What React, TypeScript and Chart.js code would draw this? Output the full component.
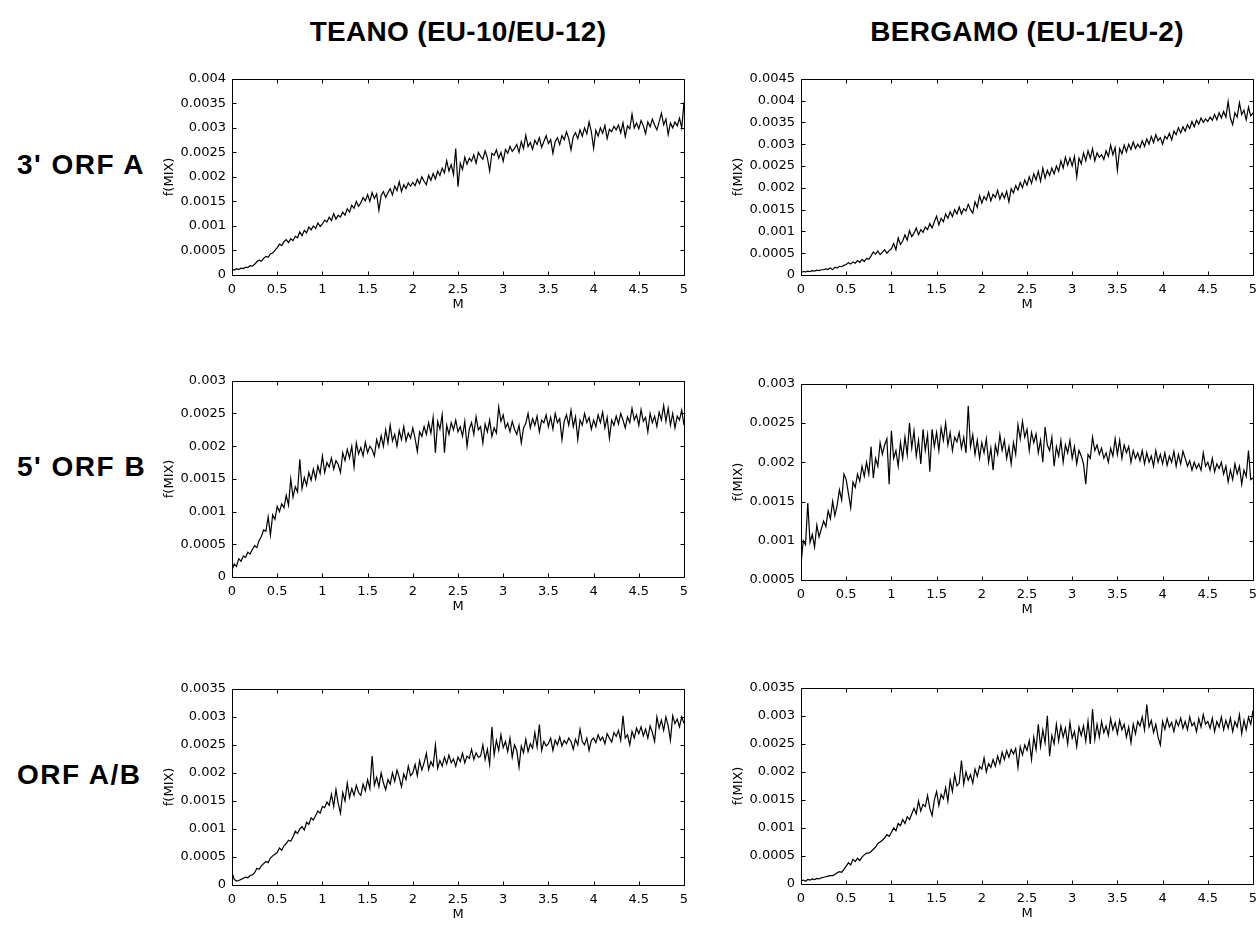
import React, { useEffect, useRef } from "react";
import { Chart, registerables } from "chart.js";

Chart.register(...registerables);

// ---------------- DATA ----------------
// M is sampled every M_STEP from 0 to 5; f(MIX) values are given in units of 1e-5.
const M_STEP = 0.025;
const UNIT = 1e-5;

const M_TICKS = [0, 0.5, 1, 1.5, 2, 2.5, 3, 3.5, 4, 4.5, 5];
const F_TICKS_0_004 = [0, 0.0005, 0.001, 0.0015, 0.002, 0.0025, 0.003, 0.0035, 0.004];
const F_TICKS_0_0045 = [0, 0.0005, 0.001, 0.0015, 0.002, 0.0025, 0.003, 0.0035, 0.004, 0.0045];
const F_TICKS_0_003 = [0, 0.0005, 0.001, 0.0015, 0.002, 0.0025, 0.003];
const F_TICKS_00005_003 = [0.0005, 0.001, 0.0015, 0.002, 0.0025, 0.003];
const F_TICKS_0_0035 = [0, 0.0005, 0.001, 0.0015, 0.002, 0.0025, 0.003, 0.0035];

const COLUMN_TITLES = ["TEANO (EU-10/EU-12)", "BERGAMO (EU-1/EU-2)"];
const ROW_TITLES = ["3' ORF A", "5' ORF B", "ORF A/B"];

// TEANO, 3' ORF A
const teanoOrfA = [
  12, 10, 13, 11, 14, 13, 16, 15, 19, 18,
  22, 27, 30, 28, 34, 38, 36, 43, 45, 50,
  56, 63, 60, 68, 72, 66, 74, 70, 79, 76,
  88, 80, 91, 86, 98, 92, 100, 95, 106, 99,
  104, 112, 108, 118, 111, 125, 114, 122, 118, 128,
  122, 135, 128, 142, 136, 150, 140, 147, 158, 151,
  164, 150, 168, 156, 165, 132, 162, 170, 158, 168,
  176, 163, 181, 172, 190, 170, 184, 176, 188, 181,
  189, 182, 195, 186, 200, 191, 184, 203, 193, 207,
  196, 212, 203, 218, 208, 233, 212, 225, 205, 258,
  180, 228, 215, 240, 226, 238, 232, 245, 228, 250,
  242, 236, 253, 239, 212, 248, 244, 255, 238, 250,
  232, 256, 248, 262, 252, 258, 266, 250, 272, 258,
  285, 262, 270, 256, 275, 266, 280, 260, 272, 284,
  268, 276, 248, 272, 280, 266, 284, 276, 292, 278,
  255, 282, 290, 278, 296, 283, 300, 288, 312, 292,
  258, 295, 283, 300, 289, 305, 278, 297, 292, 303,
  296, 306, 290, 310, 282, 304, 298, 328, 300, 310,
  298, 315, 304, 288, 312, 302, 318, 306, 296, 312,
  330, 306, 318, 286, 310, 300, 312, 304, 320, 300,
  352,
];

// BERGAMO, 3' ORF A
const bergamoOrfA = [
  6, 8, 7, 9, 8, 10, 9, 11, 10, 12,
  12, 14, 13, 16, 12, 18, 16, 20, 19, 22,
  24, 28, 25, 30, 27, 33, 29, 36, 31, 38,
  36, 44, 53, 48, 55, 47, 52, 58, 50, 56,
  60, 72, 58, 85, 70, 78, 92, 80, 102, 88,
  96, 108, 92, 104, 98, 110, 104, 118, 108, 122,
  135, 115, 130, 122, 140, 130, 145, 134, 150, 140,
  156, 140, 152, 147, 162, 150, 142, 168, 155, 182,
  165, 180, 172, 190, 170, 185, 178, 194, 174, 188,
  176, 192, 168, 198, 188, 205, 195, 212, 200, 218,
  206, 225, 210, 232, 218, 238, 215, 245, 222, 240,
  228, 245, 232, 250, 238, 262, 245, 270, 252, 268,
  250, 272, 225, 268, 255, 280, 262, 285, 268, 290,
  262, 280, 270, 276, 265, 285, 272, 298, 276, 292,
  240, 290, 278, 298, 282, 300, 288, 305, 290, 300,
  292, 308, 295, 312, 300, 318, 304, 322, 308, 315,
  300, 318, 312, 325, 310, 330, 322, 338, 326, 340,
  330, 345, 336, 352, 340, 355, 346, 360, 350, 358,
  352, 362, 355, 368, 356, 372, 360, 375, 362, 398,
  360, 345, 372, 362, 395, 368, 378, 356, 385, 365,
  372,
];

// TEANO, 5' ORF B
const teanoOrfB = [
  10, 20, 16, 28, 24, 32, 30, 38, 35, 42,
  48, 45, 56, 62, 72, 70, 92, 64, 95, 88,
  108, 100, 112, 106, 125, 110, 150, 122, 138, 130,
  180, 135, 152, 140, 160, 148, 165, 150, 170, 158,
  185, 160, 175, 168, 182, 165, 178, 172, 160, 190,
  178, 195, 182, 200, 168, 205, 188, 198, 185, 206,
  190, 200, 195, 185, 210, 198, 216, 200, 225, 205,
  232, 208, 218, 200, 224, 210, 230, 208, 220, 212,
  228, 212, 192, 222, 215, 230, 218, 236, 220, 244,
  190, 238, 226, 248, 190, 232, 218, 236, 225, 240,
  222, 230, 215, 238, 200, 226, 236, 218, 245, 225,
  230, 205, 234, 222, 240, 215, 228, 220, 260, 238,
  248, 228, 235, 222, 238, 226, 218, 232, 205, 228,
  235, 250, 228, 242, 232, 246, 222, 240, 236, 248,
  230, 244, 226, 250, 236, 242, 210, 238, 248, 232,
  255, 230, 245, 210, 240, 232, 250, 236, 244, 226,
  240, 230, 248, 236, 252, 228, 244, 212, 240, 232,
  246, 234, 250, 240, 228, 245, 236, 258, 240, 248,
  232, 256, 238, 244, 222, 250, 236, 246, 230, 252,
  240, 262, 238, 258, 232, 250, 228, 246, 240, 255,
  232,
];

// BERGAMO, 5' ORF B
const bergamoOrfB = [
  70, 100, 95, 148, 98, 108, 92, 120, 105, 115,
  125, 118, 138, 128, 150, 132, 145, 165, 152, 185,
  178, 160, 142, 175, 168, 185, 176, 195, 182, 200,
  185, 220, 180, 205, 195, 225, 210, 222, 230, 172,
  240, 205, 215, 195, 225, 205, 232, 210, 250, 218,
  240, 208, 228, 198, 242, 215, 235, 188, 242, 220,
  238, 215, 244, 228, 250, 222, 238, 215, 232, 226,
  238, 218, 232, 212, 272, 220, 235, 210, 228, 205,
  225, 212, 230, 200, 218, 190, 222, 210, 235, 215,
  228, 205, 220, 198, 225, 210, 248, 230, 252, 232,
  242, 215, 238, 225, 236, 212, 228, 200, 245, 222,
  215, 232, 195, 220, 208, 228, 200, 222, 212, 228,
  205, 220, 198, 215, 208, 198, 172, 210, 205, 232,
  215, 222, 210, 218, 205, 212, 200, 218, 208, 230,
  210, 228, 205, 222, 212, 220, 200, 215, 205, 212,
  202, 215, 198, 212, 200, 208, 195, 215, 200, 210,
  198, 212, 196, 208, 200, 214, 195, 210, 198, 214,
  205, 195, 202, 190, 200, 192, 198, 190, 212, 195,
  200, 190, 205, 188, 198, 192, 200, 185, 195, 175,
  190, 178, 198, 185, 195, 172, 190, 182, 215, 178,
  180,
];

// TEANO, ORF A/B
const teanoOrfAB = [
  22, 10, 7, 8, 10, 12, 14, 13, 17, 18,
  22, 30, 28, 34, 38, 42, 40, 48, 52, 55,
  58, 66, 62, 70, 74, 80, 78, 86, 96, 92,
  100, 104, 98, 112, 108, 120, 116, 124, 132, 128,
  140, 138, 148, 142, 162, 140, 170, 145, 128, 165,
  150, 182, 156, 172, 160, 178, 165, 160, 180, 168,
  188, 172, 230, 178, 192, 175, 200, 182, 170, 188,
  180, 200, 185, 205, 192, 175, 198, 188, 212, 195,
  200, 215, 195, 222, 205, 218, 235, 206, 220, 212,
  250, 208, 222, 212, 228, 216, 232, 218, 225, 212,
  228, 220, 235, 218, 230, 226, 242, 224, 236, 228,
  230, 250, 224, 242, 215, 282, 232, 258, 240, 268,
  245, 256, 238, 262, 228, 250, 240, 210, 248, 236,
  260, 238, 252, 244, 272, 246, 286, 240, 256, 248,
  252, 262, 240, 258, 250, 264, 248, 258, 252, 262,
  256, 242, 260, 250, 278, 256, 250, 262, 240, 258,
  262, 254, 268, 258, 264, 252, 270, 262, 255, 272,
  265, 276, 258, 302, 262, 268, 250, 274, 262, 280,
  270, 282, 266, 278, 262, 284, 272, 256, 300, 280,
  294, 276, 300, 284, 258, 302, 288, 296, 282, 300,
  288,
];

// BERGAMO, ORF A/B
const bergamoOrfAB = [
  6, 7, 5, 8, 7, 9, 8, 10, 9, 11,
  12, 13, 14, 15, 15, 17, 20, 22, 21, 26,
  32, 38, 34, 44, 40, 46, 42, 48, 52, 55,
  55, 58, 62, 66, 72, 75, 78, 82, 88, 85,
  92, 100, 95, 108, 104, 115, 108, 120, 115, 125,
  135, 125, 148, 130, 142, 138, 158, 135, 122, 150,
  165, 140, 160, 152, 172, 148, 185, 165, 195, 175,
  180, 220, 178, 200, 185, 195, 180, 205, 192, 210,
  205, 225, 200, 215, 208, 222, 210, 228, 215, 235,
  222, 238, 226, 240, 232, 242, 208, 245, 230, 248,
  238, 256, 222, 262, 240, 285, 245, 275, 252, 300,
  228, 265, 250, 285, 255, 282, 262, 278, 250, 288,
  260, 272, 245, 280, 265, 282, 255, 290, 250, 312,
  258, 285, 262, 290, 270, 282, 265, 295, 275, 288,
  268, 292, 275, 285, 262, 280, 252, 285, 268, 290,
  282, 298, 275, 320, 280, 292, 270, 285, 262, 248,
  290, 276, 295, 280, 288, 272, 292, 282, 296, 278,
  290, 275, 298, 282, 288, 272, 295, 280, 302, 285,
  290, 278, 296, 272, 290, 280, 298, 275, 292, 278,
  296, 272, 290, 280, 302, 268, 292, 275, 298, 285,
  310,
];

// ---------------- LAYOUT ----------------
const TITLE_FONT = "'Liberation Sans', Arial, Helvetica, sans-serif";
const AXIS_FONT = "'DejaVu Sans', 'Liberation Sans', Arial, sans-serif";
const AXIS_FONT_SIZE = 13;
const Y_AXIS_W = 70;
const X_AXIS_H = 37;
const PAD_T = 10;
const PAD_R = 20;
const PLOT_W = 452;
const PLOT_H = 200;

type PanelDef = {
  values: number[];
  yTicks: number[];
  left: number;
  top: number;
};

const PANELS: PanelDef[] = [
  { values: teanoOrfA, yTicks: F_TICKS_0_004, left: 232, top: 75 },
  { values: bergamoOrfA, yTicks: F_TICKS_0_0045, left: 801, top: 75 },
  { values: teanoOrfB, yTicks: F_TICKS_0_003, left: 232, top: 377 },
  { values: bergamoOrfB, yTicks: F_TICKS_00005_003, left: 801, top: 380 },
  { values: teanoOrfAB, yTicks: F_TICKS_0_0035, left: 232, top: 685 },
  { values: bergamoOrfAB, yTicks: F_TICKS_0_0035, left: 801, top: 684 },
];

const fmt = (v: number) => String(Number(v.toFixed(6)));

const framePlugin = {
  id: "frameTicks",
  afterDatasetsDraw(chart: any) {
    const { ctx, chartArea: a, scales } = chart;
    const L = Math.round(a.left) + 0.5;
    const R = Math.round(a.right) + 0.5;
    const T = Math.round(a.top) + 0.5;
    const B = Math.round(a.bottom) + 0.5;
    const len = 4;
    ctx.save();
    ctx.strokeStyle = "#000";
    ctx.lineWidth = 1;
    ctx.beginPath();
    ctx.rect(L, T, R - L, B - T);
    scales.x.ticks.forEach((t: any) => {
      const px = Math.round(scales.x.getPixelForValue(t.value)) + 0.5;
      ctx.moveTo(px, B);
      ctx.lineTo(px, B - len);
      ctx.moveTo(px, T);
      ctx.lineTo(px, T + len);
    });
    scales.y.ticks.forEach((t: any) => {
      const py = Math.round(scales.y.getPixelForValue(t.value)) + 0.5;
      ctx.moveTo(L, py);
      ctx.lineTo(L + len, py);
      ctx.moveTo(R, py);
      ctx.lineTo(R - len, py);
    });
    ctx.stroke();
    ctx.restore();
  },
};

function Panel({ def }: { def: PanelDef }) {
  const ref = useRef<HTMLCanvasElement | null>(null);
  const W = Y_AXIS_W + PLOT_W + PAD_R;
  const H = PAD_T + PLOT_H + X_AXIS_H;

  useEffect(() => {
    if (!ref.current) return;
    const yMin = def.yTicks[0];
    const yMax = def.yTicks[def.yTicks.length - 1];
    const axisFont = { family: AXIS_FONT, size: AXIS_FONT_SIZE };
    const chart = new Chart(ref.current, {
      type: "line",
      data: {
        datasets: [
          {
            data: def.values.map((v, i) => ({ x: i * M_STEP, y: v * UNIT })),
            borderColor: "#000",
            borderWidth: 1.2,
            pointRadius: 0,
            tension: 0,
            fill: false,
          },
        ],
      },
      options: {
        animation: false,
        responsive: false,
        maintainAspectRatio: false,
        events: [],
        layout: { padding: { left: 0, top: PAD_T, right: PAD_R, bottom: 0 } },
        plugins: { legend: { display: false }, tooltip: { enabled: false } },
        scales: {
          x: {
            type: "linear",
            min: 0,
            max: 5,
            grid: { display: false, drawTicks: false },
            border: { display: false },
            afterBuildTicks: (s: any) => {
              s.ticks = M_TICKS.map((v) => ({ value: v }));
            },
            afterFit: (s: any) => {
              s.height = X_AXIS_H;
            },
            ticks: {
              padding: 7,
              color: "#000",
              font: axisFont,
              autoSkip: false,
              maxRotation: 0,
              callback: (v: any) => fmt(Number(v)),
            },
            title: {
              display: true,
              text: "M",
              color: "#000",
              font: axisFont,
              padding: 0,
            },
          },
          y: {
            type: "linear",
            min: yMin,
            max: yMax,
            grid: { display: false, drawTicks: false },
            border: { display: false },
            afterBuildTicks: (s: any) => {
              s.ticks = def.yTicks.map((v) => ({ value: v }));
            },
            afterFit: (s: any) => {
              s.width = Y_AXIS_W;
            },
            ticks: {
              padding: 6,
              color: "#000",
              font: axisFont,
              autoSkip: false,
              callback: (v: any) => fmt(Number(v)),
            },
            title: {
              display: true,
              text: "f(MIX)",
              color: "#000",
              font: axisFont,
              padding: 0,
            },
          },
        },
      },
      plugins: [framePlugin],
    } as any);
    return () => chart.destroy();
  }, [def]);

  return (
    <canvas
      ref={ref}
      width={W}
      height={H}
      style={{
        position: "absolute",
        left: def.left - Y_AXIS_W,
        top: def.top - PAD_T,
        width: W,
        height: H,
      }}
    />
  );
}

export default function App() {
  const colCenters = [458, 1027];
  const rowCenters = [PANELS[0].top + PLOT_H / 2, PANELS[2].top + PLOT_H / 2, PANELS[4].top + PLOT_H / 2];
  return (
    <div
      style={{
        position: "absolute",
        left: 0,
        top: 0,
        width: 1256,
        height: 927,
        overflow: "hidden",
        background: "#fff",
        fontFamily: TITLE_FONT,
      }}
    >
      {COLUMN_TITLES.map((t, i) => (
        <div
          key={t}
          style={{
            position: "absolute",
            left: colCenters[i] - 300,
            width: 600,
            top: 18,
            textAlign: "center",
            fontSize: 28,
            lineHeight: "28px",
            fontWeight: "bold",
            letterSpacing: "0.3px",
            whiteSpace: "nowrap",
          }}
        >
          {t}
        </div>
      ))}
      {ROW_TITLES.map((t, i) => (
        <div
          key={t}
          style={{
            position: "absolute",
            left: 17,
            top: rowCenters[i] - 10 - 13.7,
            fontSize: 28,
            lineHeight: "28px",
            fontWeight: "bold",
            letterSpacing: "1.5px",
            whiteSpace: "nowrap",
          }}
        >
          {t}
        </div>
      ))}
      {PANELS.map((p, i) => (
        <Panel key={i} def={p} />
      ))}
    </div>
  );
}
